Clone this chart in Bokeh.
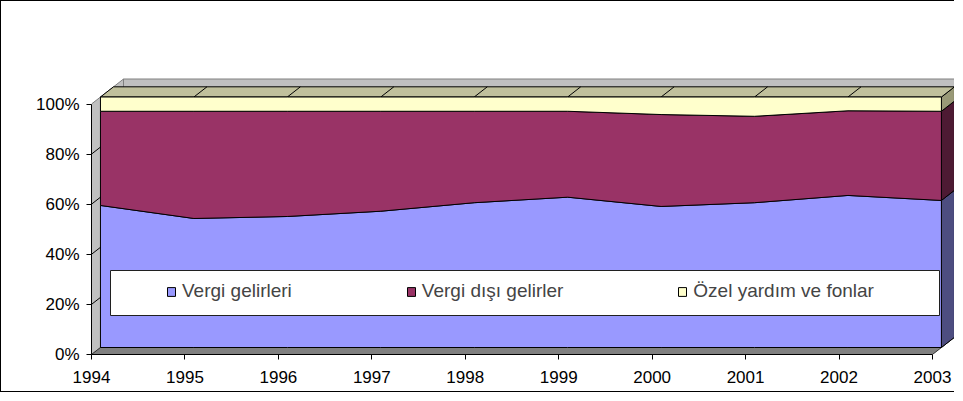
from bokeh.plotting import figure
from bokeh.models import (FixedTicker, PrintfTickFormatter, Legend, LegendItem, Range1d)
from bokeh.embed import file_html
from bokeh.resources import INLINE

# ---------------- data ----------------
years = [1994, 1995, 1996, 1997, 1998, 1999, 2000, 2001, 2002, 2003]
vergi_gelirleri = [56.7, 51.5, 52.3, 54.4, 57.8, 60.0, 56.3, 57.8, 60.7, 58.7]
vergi_disi_gelirler = [37.6, 42.8, 42.0, 39.9, 36.5, 34.3, 36.7, 34.5, 33.8, 35.6]
ozel_yardim_fonlar = [5.7, 5.7, 5.7, 5.7, 5.7, 5.7, 7.0, 7.7, 5.5, 5.7]
series_names = ["Vergi gelirleri", "Vergi dışı gelirler", "Özel yardım ve fonlar"]
y_ticks = [0, 20, 40, 60, 80, 100]

# ---------------- styles / layout ----------------
front_colors = ["#9999FF", "#993366", "#FFFFCC"]
side_colors = ["#4D4D80", "#4D1A33", "#999977"]
top_color = "#C0C09C"
wall_color = "#C0C0C0"
floor_color = "#808080"
FONT = "Liberation Sans"

W, H = 954, 392
BL = 90                         # frame left border (px)
AXIS_Y = 353                    # x-axis position from canvas top (px)
BB = H - AXIS_Y                 # frame bottom border (px)
PX_YEAR = 93.44                 # px per year
PX_PCT = 2.505                  # px per percent
x_end = years[0] + (W - BL) / PX_YEAR
y_end = AXIS_Y / PX_PCT

DX = 32 / PX_YEAR               # depth vector in data units
DY = 25 / PX_PCT
F1, F2 = 0.28, 0.6875           # series front / back depth fractions

# normalise to 100 %
series = [vergi_gelirleri, vergi_disi_gelirler, ozel_yardim_fonlar]
totals = [sum(v) for v in zip(*series)]
pct = [[v / t * 100 for v, t in zip(s, totals)] for s in series]
bottoms, tops = [], []
acc = [0.0] * len(years)
for s in pct:
    bottoms.append(list(acc))
    acc = [a + v for a, v in zip(acc, s)]
    tops.append(list(acc))

p = figure(width=W, height=H, output_backend="svg", toolbar_location=None,
           x_range=Range1d(years[0], x_end), y_range=Range1d(0, y_end),
           min_border_left=BL, min_border_bottom=BB, min_border_top=0,
           min_border_right=0, background_fill_color="white",
           border_fill_color="white",
           styles={"border-left": "1px solid black",
                   "border-top": "1px solid black",
                   "border-bottom": "1px solid black"})
p.outline_line_color = None
p.xgrid.visible = False
p.ygrid.visible = False

x0, x1 = years[0], years[-1]
ymax = y_ticks[-1]

# walls and floor
p.quad(left=x0 + DX, right=x1 + DX, bottom=DY, top=ymax + DY,
       fill_color=wall_color, line_color="#808080")
p.patch([x0, x0 + DX, x0 + DX, x0], [0, DY, ymax + DY, ymax],
        fill_color=wall_color, line_color="#808080")
p.patch([x0, x1, x1 + DX, x0 + DX], [0, 0, DY, DY],
        fill_color=floor_color, line_color="#333333")
gx, gy = [], []
for t in y_ticks[1:-1]:
    gx.append([x0 + DX, x1 + DX]); gy.append([t + DY, t + DY])
    gx.append([x0, x0 + DX]); gy.append([t, t + DY])
p.multi_line(gx, gy, line_color="#000000", line_width=1)

# series: side faces
for k in range(3):
    b, t = bottoms[k][-1], tops[k][-1]
    p.patch([x1 + F1 * DX, x1 + F2 * DX, x1 + F2 * DX, x1 + F1 * DX],
            [b + F1 * DY, b + F2 * DY, t + F2 * DY, t + F1 * DY],
            fill_color=side_colors[k], line_color="black", line_width=1)

# top face of the upper layer
tt = tops[-1]
p.patch([x0 + F1 * DX, x1 + F1 * DX, x1 + F2 * DX, x0 + F2 * DX],
        [tt[0] + F1 * DY, tt[-1] + F1 * DY, tt[-1] + F2 * DY, tt[0] + F2 * DY],
        fill_color=top_color, line_color="black", line_width=1)
p.multi_line([[yr + F1 * DX, yr + F2 * DX] for yr in years[1:-1]],
             [[tv + F1 * DY, tv + F2 * DY] for tv in tt[1:-1]],
             line_color="black", line_width=1)

# front faces
front_renderers = []
for k in range(3):
    xs = [yr + F1 * DX for yr in years] + [yr + F1 * DX for yr in reversed(years)]
    ys = [v + F1 * DY for v in tops[k]] + [v + F1 * DY for v in reversed(bottoms[k])]
    r = p.patch(xs, ys, fill_color=front_colors[k], line_color="black", line_width=1)
    front_renderers.append(r)

# legend box
def px_x(px):
    return years[0] + (px - 91) / PX_YEAR

def px_y(py):
    return (354 - py) / PX_PCT

p.quad(left=px_x(110), right=px_x(939), bottom=px_y(315), top=px_y(270),
       fill_color="white", line_color="#202020", line_width=1)

legend = Legend(items=[LegendItem(label=n, renderers=[r])
                       for n, r in zip(series_names, front_renderers)],
                orientation="horizontal", location=(75, 52), spacing=114,
                padding=0, margin=0, glyph_width=10, glyph_height=11,
                label_standoff=6, label_text_font_size="19px",
                label_text_font=FONT, background_fill_alpha=0,
                border_line_color=None)
p.add_layout(legend)

# axes
p.xaxis.ticker = FixedTicker(ticks=years)
p.xaxis.formatter = PrintfTickFormatter(format="%d")
p.xaxis.bounds = (x0, x1)
p.yaxis.ticker = FixedTicker(ticks=y_ticks)
p.yaxis.formatter = PrintfTickFormatter(format="%d%%")
p.yaxis.bounds = (0, ymax)
for ax in (p.xaxis, p.yaxis):
    ax.axis_line_color = "black"
    ax.major_tick_line_color = "black"
    ax.major_tick_in = 0
    ax.major_tick_out = 5
    ax.minor_tick_line_color = None
    ax.major_label_text_font = FONT
    ax.major_label_text_font_size = "17px"
    ax.major_label_text_color = "black"
p.xaxis.major_label_standoff = 11
p.yaxis.major_label_standoff = 7

open("out.html", "w").write(file_html(p, INLINE))
